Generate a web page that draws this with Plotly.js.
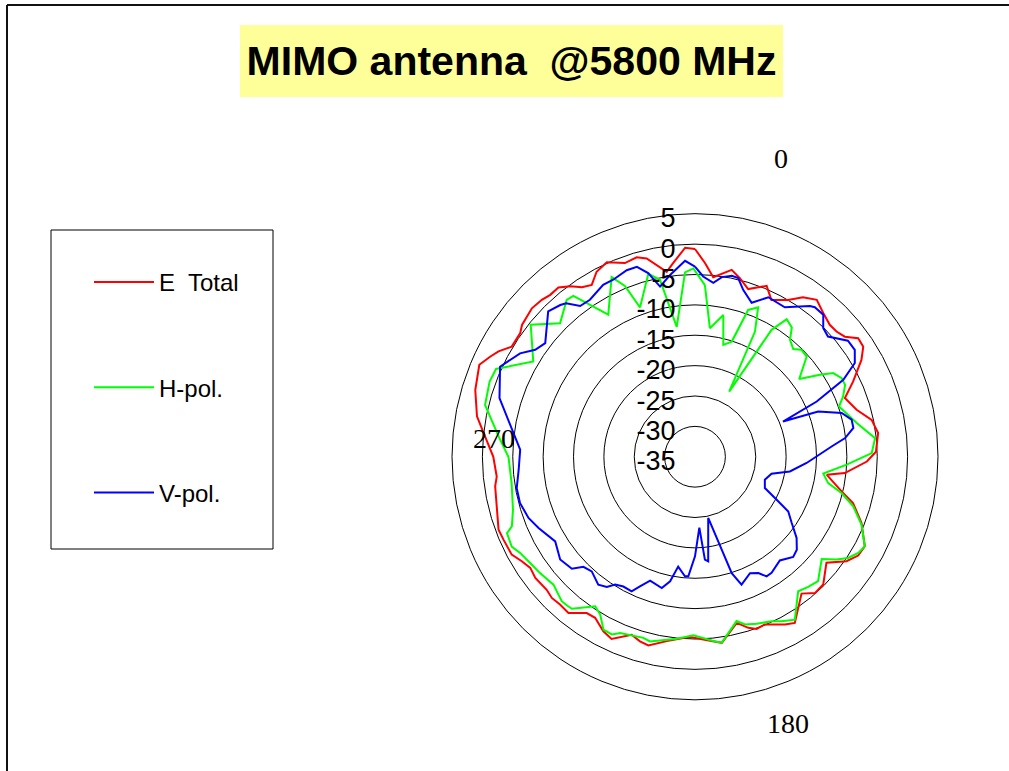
<!DOCTYPE html>
<html>
<head>
<meta charset="utf-8">
<script src="https://cdn.plot.ly/plotly-3.0.1.min.js"></script>
<style>html,body{margin:0;padding:0;background:#fff;}#chart{width:1009px;height:771px;}</style>
</head>
<body>
<div id="chart"></div>
<script>
// ---- data (angle in degrees, level in dB) ----
const seriesNames = ["E\u00A0 Total", "H-pol.", "V-pol."];
const radialTicks = [-35, -30, -25, -20, -15, -10, -5, 0, 5];
const angleLabels = ["0", "180", "270"];

const eTotalTheta = [0, 3.0, 5.8, 11.1, 14.1, 17.6, 22.75, 26.0, 30.7, 34.1, 37.8, 41.8, 45.6, 48.5, 51.3, 54.0, 56.8, 59.8, 64.6, 68.6, 73.8, 78.2, 82.6, 88.4, 91.6, 96.2, 97.8, 103.3, 106.3, 111.7, 117.8, 121.2, 124.6, 128.9, 134.9, 138.6, 142.1, 149.0, 151.8, 157.4, 160.3, 162.7, 165.9, 171.8, 177.4, 181.6, 183.7, 188.7, 193.9, 196.6, 199.6, 204.6, 207.7, 211.8, 214.7, 219.0, 222.4, 225.4, 228.1, 232.8, 236.0, 238.9, 241.9, 246.6, 249.6, 261.6, 264.3, 270.0, 276.4, 280.5, 286.9, 293.1, 296.1, 298.2, 301.0, 305.3, 307.3, 312.3, 315.7, 318.2, 321.1, 323.8, 326.3, 329.0, 332.0, 335.6, 340.1, 343.7, 346.3, 351.3, 353.6, 357.3];
const eTotalR = [-0.8, -3.1, -5.3, -3.65, -4.7, -6.05, -4.5, -6.3, -5.0, -3.3, -2.3, -3.3, -3.95, -3.9, -3.4, -1.8, -1.9, -3.3, -6.2, -8.5, -7.3, -5.3, -4.6, -5.2, -6.7, -10.2, -13.1, -10.2, -7.9, -5.5, -3.4, -3.6, -4.7, -7.2, -5.2, -5.1, -6.45, -3.1, -3.65, -5.1, -4.9, -5.5, -6.8, -4.05, -4.9, -5.3, -5.1, -4.3, -3.0, -3.3, -3.9, -2.0, -2.55, -3.8, -3.7, -1.9, -2.05, -1.9, -2.2, -2.0, -2.3, -1.7, -0.8, -0.65, -0.5, -1.75, -2.2, -1.8, 0.0, 1.5, 2.8, 3.6, 2.5, 1.7, 0.2, 0.25, 0.8, 1.3, 1.1, 0.75, 0.8, -0.2, -1.45, -2.0, -0.5, 0.15, -1.1, -0.8, -1.4, -4.2, -2.9, -0.55];

const hPolTheta = [3.3, 6.6, 11.3, 14.2, 17.7, 19.9, 22.9, 25.6, 27.7, 31.1, 33.7, 36.8, 39.1, 42.4, 44.9, 48.1, 53.3, 56.7, 58.8, 61.8, 64.4, 67.9, 70.8, 78.2, 84.1, 88.8, 93.0, 97.5, 101.2, 103.9, 107.4, 112.2, 117.8, 120.5, 123.5, 126.0, 128.9, 135.3, 139.0, 142.5, 148.5, 152.2, 155.0, 159.7, 163.4, 165.8, 171.8, 173.8, 180.5, 185.7, 193.7, 195.9, 203.0, 205.1, 207.9, 211.0, 213.7, 219.0, 220.7, 222.7, 227.9, 233.1, 236.5, 241.2, 243.9, 247.9, 249.2, 253.8, 261.8, 269.9, 275.9, 283.9, 290.1, 293.8, 300.5, 308.8, 314.7, 320.7, 322.9, 328.6, 335.1, 337.7, 339.8, 345.7, 348.8, 352.0, 356.9, 359.5];
const hPolR = [-6.7, -13.7, -11.2, -16.0, -15.1, -9.3, -8.3, -12.15, -22.9, -10.6, -7.8, -8.4, -10.2, -11.0, -10.15, -10.3, -13.6, -10.4, -8.4, -7.6, -7.6, -8.7, -9.9, -7.8, -5.2, -5.9, -10.0, -13.7, -12.65, -10.15, -7.7, -5.4, -3.4, -3.8, -4.8, -6.2, -8.2, -6.2, -6.6, -7.1, -3.55, -4.4, -5.1, -5.7, -6.2, -7.1, -4.1, -4.4, -5.6, -4.9, -3.7, -4.0, -3.5, -2.7, -2.8, -4.7, -5.4, -2.8, -2.7, -2.65, -3.6, -3.1, -2.8, -2.15, -1.4, -1.6, -2.75, -3.8, -4.5, -4.3, -2.5, 0.6, 1.0, 0.8, -4.1, -0.3, -3.75, -1.65, -1.8, -7.6, -2.4, -4.6, -8.8, -3.9, -5.3, -13.4, -4.6, -4.0];

const vPolTheta = [0, 2.6, 6.0, 8.5, 11.5, 13.6, 16.1, 20.2, 24.7, 31.0, 37.3, 38.7, 42.1, 44.9, 47.9, 52.8, 56.2, 59.6, 62.6, 65.6, 68.2, 69.8, 73.4, 76.7, 79.7, 82.9, 85.7, 93.2, 98.8, 102.5, 108.2, 114.1, 117.8, 120.4, 124.4, 128.6, 132.4, 135.6, 140.7, 146.6, 149.1, 151.4, 154.7, 160.0, 162.5, 167.8, 172.8, 174.5, 176.5, 180.0, 183.2, 184.8, 188.7, 191.3, 194.2, 199.9, 203.0, 205.2, 208.9, 212.0, 214.1, 217.1, 222.0, 225.4, 227.7, 232.7, 238.8, 245.5, 249.8, 255.2, 260.0, 265.8, 272.3, 286.7, 294.8, 300.6, 303.8, 307.2, 314.7, 318.4, 320.0, 322.7, 326.2, 331.9, 335.2, 339.9, 343.0, 345.7, 348.4, 352.2, 357.1];
const vPolR = [-3.7, -5.3, -6.2, -5.1, -4.6, -4.75, -6.4, -8.0, -6.1, -6.3, -3.8, -3.45, -3.5, -5.1, -5.5, -3.4, -3.35, -4.5, -7.5, -13.0, -19.4, -13.4, -9.8, -8.5, -8.5, -10.1, -12.45, -16.6, -19.2, -22.1, -22.9, -22.4, -19.8, -17.2, -15.7, -13.6, -12.3, -11.9, -12.95, -12.1, -12.05, -13.2, -13.8, -12.6, -14.9, -24.7, -17.65, -18.0, -23.3, -18.6, -15.3, -15.25, -16.7, -14.1, -12.7, -13.3, -11.8, -10.5, -10.6, -10.2, -9.1, -8.6, -9.6, -9.2, -7.6, -7.1, -8.1, -6.7, -5.8, -5.2, -5.2, -5.9, -6.2, -1.4, 0.35, -1.55, -3.35, -4.05, -1.0, -1.6, -2.0, -3.8, -3.9, -2.9, -2.9, -2.3, -2.3, -3.8, -6.4, -4.8, -2.7];

// ---- helpers ----
const W = 1009, H = 771;
const px = x => x / W;
const py = y => 1 - y / H;
const closeLoop = a => a.concat([a[0]]);
const sansFont = "Arial, 'Liberation Sans', sans-serif";
const serifFont = "'Times New Roman', 'Liberation Serif', serif";

function trace(theta, r, name, color, group) {
  return {
    type: 'scatterpolar', mode: 'lines',
    theta: closeLoop(theta), r: closeLoop(r),
    name: name, legendgroup: group,
    line: {color: color, width: 2},
    hoverinfo: 'skip'
  };
}

const data = [
  trace(eTotalTheta, eTotalR, seriesNames[0], '#FF0000', 'g1'),
  trace(hPolTheta, hPolR, seriesNames[1], '#00FF00', 'g2'),
  trace(vPolTheta, vPolR, seriesNames[2], '#0000FF', 'g3')
];

const layout = {
  width: W, height: H,
  margin: {l: 0, r: 0, t: 0, b: 0},
  paper_bgcolor: '#ffffff',
  font: {family: sansFont, color: '#000'},
  title: {
    text: '<b>MIMO antenna\u00A0 @5800 MHz</b>',
    x: px(511.5), xref: 'paper', xanchor: 'center',
    y: py(61), yref: 'paper', yanchor: 'middle',
    font: {family: sansFont, size: 41, color: '#000'}
  },
  polar: {
    domain: {x: [px(452), px(938)], y: [py(700), py(213.5)]},
    bgcolor: 'rgba(0,0,0,0)',
    radialaxis: {
      range: [radialTicks[0], radialTicks[radialTicks.length - 1]],
      tickvals: radialTicks,
      ticktext: radialTicks.map(String),
      angle: 90, side: 'counterclockwise',
      showline: false, ticks: '',
      gridcolor: '#000', gridwidth: 1,
      tickfont: {family: sansFont, size: 27, color: '#000'}
    },
    angularaxis: {
      rotation: 90, direction: 'clockwise',
      showticklabels: false, ticks: '', showgrid: false,
      showline: true, linecolor: '#000', linewidth: 1
    }
  },
  showlegend: true,
  legend: {
    x: px(89), xanchor: 'left', y: py(260), yanchor: 'top',
    bgcolor: 'rgba(0,0,0,0)', borderwidth: 0,
    traceorder: 'grouped', tracegroupgap: 71,
    itemwidth: 60,
    font: {family: sansFont, size: 24, color: '#000'}
  },
  shapes: [
    {type: 'rect', xref: 'paper', yref: 'paper', x0: px(240), x1: px(783), y0: py(97), y1: py(25),
     fillcolor: '#FFFF99', line: {width: 0}, layer: 'below'},
    {type: 'rect', xref: 'paper', yref: 'paper', x0: px(51), x1: px(273), y0: py(549), y1: py(230),
     fillcolor: 'rgba(0,0,0,0)', line: {color: '#000', width: 1}},
    {type: 'line', xref: 'paper', yref: 'paper', x0: px(7), x1: px(7), y0: py(5), y1: 0,
     line: {color: '#111', width: 2}},
    {type: 'line', xref: 'paper', yref: 'paper', x0: px(7), x1: 1, y0: py(5), y1: py(5),
     line: {color: '#111', width: 2}}
  ],
  annotations: [
    {text: angleLabels[0], xref: 'paper', yref: 'paper', x: px(781), y: py(159), showarrow: false,
     xanchor: 'center', yanchor: 'middle', font: {family: serifFont, size: 28, color: '#000'}},
    {text: angleLabels[1], xref: 'paper', yref: 'paper', x: px(788), y: py(723), showarrow: false,
     xanchor: 'center', yanchor: 'middle', font: {family: serifFont, size: 28, color: '#000'}},
    {text: angleLabels[2], xref: 'paper', yref: 'paper', x: px(494), y: py(438), showarrow: false,
     xanchor: 'center', yanchor: 'middle', font: {family: serifFont, size: 28, color: '#000'}}
  ]
};

Plotly.newPlot('chart', data, layout, {displayModeBar: false, staticPlot: true});
</script>
</body>
</html>
